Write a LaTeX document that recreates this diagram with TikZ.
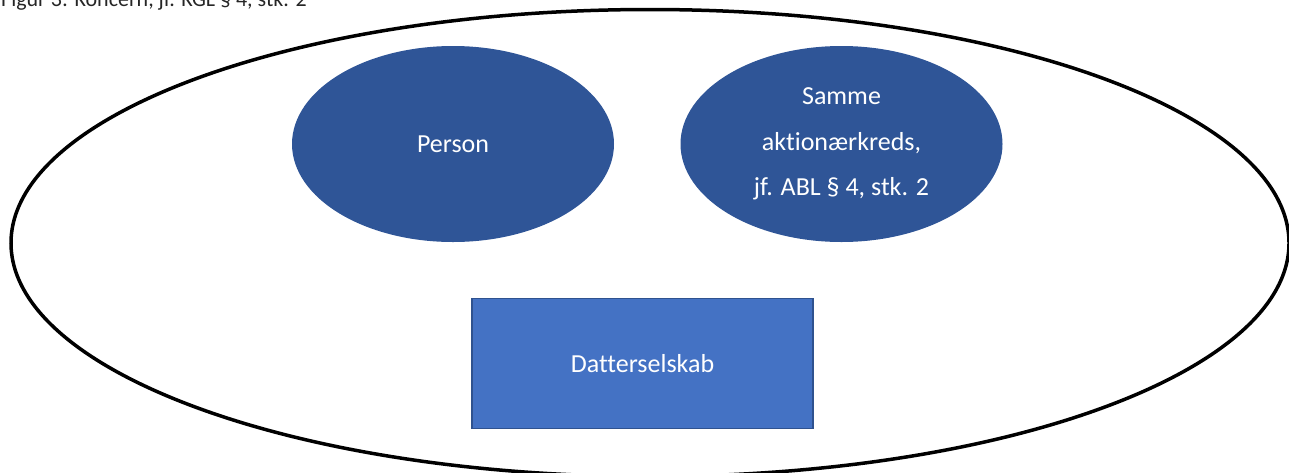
\documentclass[tikz,border=0pt]{standalone}
\usepackage{fontspec}
\setmainfont{Carlito}[Ligatures={NoCommon}]
\usetikzlibrary{shapes.geometric}
\definecolor{ovalblue}{HTML}{2F5597}
\definecolor{boxblue}{HTML}{4472C4}
\definecolor{boxedge}{HTML}{2F528F}
\definecolor{captiongray}{HTML}{262626}
\tikzset{
  outer/.style={draw=black, line width=3.5pt, ellipse, inner sep=0pt, outer sep=0pt, minimum width=1278pt, minimum height=467pt},
  oval/.style={fill=ovalblue, ellipse, inner sep=0pt, minimum width=322pt, minimum height=196pt, text=white, font=\fontsize{26}{45.5}\selectfont, align=center},
  rectbox/.style={fill=boxblue, draw=boxedge, line width=1.5pt, inner sep=0pt, minimum width=341pt, minimum height=130pt, text=white, font=\fontsize{26}{32}\selectfont},
  caption/.style={anchor=base west, inner sep=0pt, text=captiongray, font=\fontsize{22}{26}\selectfont}
}
\begin{document}
\begin{tikzpicture}[x=1pt, y=-1pt]
\useasboundingbox (0,0) rectangle (1289,472);
\clip (0,0) rectangle (1289,472);
\node[outer] (koncern) at (650,243) {};
\node[oval] (person) at (453,144) {Person};
\node[oval] (aktionaer) at (841.5,144) {Samme\\aktionærkreds,\\jf. ABL § 4, stk. 2};
\node[rectbox] (datter) at (642.5,363.5) {Datterselskab};
\node[caption] (figcap) at (1,6.5) {Figur 3: Koncern, jf. KGL § 4, stk. 2};
\end{tikzpicture}
\end{document}
